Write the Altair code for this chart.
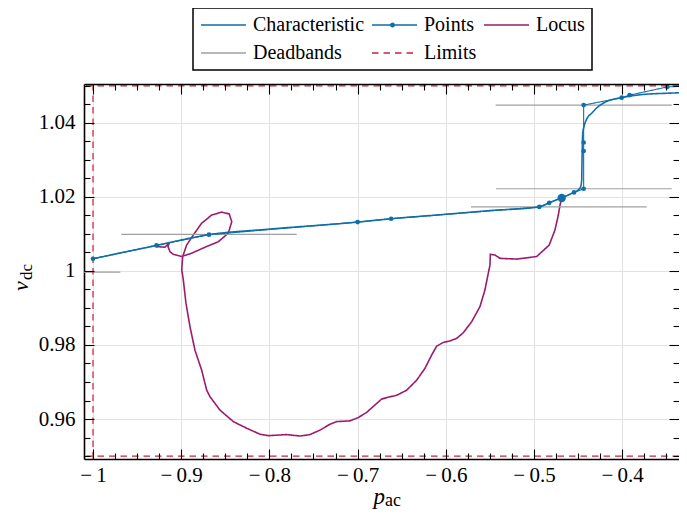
import altair as alt
import pandas as pd

# ---------------- data ----------------
SERIES = ["Characteristic", "Points", "Locus", "Deadbands", "Limits"]
COLORS = ["#0f6fa8", "#0f6fa8", "#9b1c6e", "#a0a0a0", "#c8233c"]
DASHES = [[1, 0], [1, 0], [1, 0], [1, 0], [6.5, 5]]

char_x = [-1.0, -0.928, -0.8685, -0.8, -0.7, -0.662, -0.6, -0.55, -0.494, -0.4827,
          -0.4705, -0.462, -0.4554, -0.4498, -0.4471, -0.4459, -0.4456, -0.4452,
          -0.4448, -0.4433, -0.4403, -0.4346, -0.4271, -0.4175, -0.4006, -0.3798,
          -0.3495, -0.3265, -0.30]
char_y = [1.0033, 1.0069, 1.0098, 1.0113, 1.0132, 1.0141, 1.0153, 1.0163, 1.0173, 1.0184,
          1.0196, 1.0204, 1.0212, 1.0219, 1.0228, 1.0246, 1.0291, 1.0336,
          1.0372, 1.0390, 1.0410, 1.0426, 1.0444, 1.0458, 1.0468, 1.0476,
          1.0480, 1.0482, 1.0484]

pts_x = [-1.0, -0.928, -0.8685, -0.7, -0.662, -0.494, -0.4827, -0.4546, -0.4437,
         -0.4437, -0.4437, -0.4437, -0.4006, -0.3916, -0.3489, -0.30]
pts_y = [1.0033, 1.0069, 1.0098, 1.0132, 1.0141, 1.0173, 1.0184, 1.0212, 1.0222,
         1.0324, 1.0347, 1.0448, 1.0468, 1.0475, 1.0497, 1.0503]

op_x = [-0.4686]
op_y = [1.0197]

locus_x = [-0.9278, -0.9184, -0.9135, -0.9150, -0.9127, -0.9090, -0.8994, -0.8881,
           -0.8711, -0.8579, -0.8466, -0.8427, -0.8455, -0.8541, -0.8654, -0.8768,
           -0.8863, -0.8938, -0.8983, -0.8994, -0.8976, -0.8946, -0.8900, -0.8844,
           -0.8768, -0.8711, -0.8673, -0.8560, -0.8409, -0.8257, -0.8107, -0.8012,
           -0.7804, -0.7653, -0.7540, -0.7426, -0.7313, -0.7237, -0.7086, -0.6992,
           -0.6897, -0.6803, -0.6727, -0.6633, -0.6557, -0.6443, -0.6330, -0.6236,
           -0.6160, -0.6103, -0.6028, -0.5952, -0.5876, -0.5802, -0.5706, -0.5612,
           -0.5556, -0.5518, -0.5499, -0.5495, -0.5442, -0.5385, -0.5196, -0.4969,
           -0.4827, -0.4762, -0.4724, -0.4705, -0.4686]
locus_y = [1.0066, 1.0064, 1.0076, 1.0066, 1.0052, 1.0045, 1.0039, 1.0048,
           1.0066, 1.0079, 1.0102, 1.0133, 1.0154, 1.0159, 1.0151, 1.0129,
           1.0097, 1.0070, 1.0039, 1.0003, 0.9976, 0.9913, 0.9849, 0.9786,
           0.9732, 0.9678, 0.9660, 0.9624, 0.9593, 0.9575, 0.9559, 0.9555,
           0.9558, 0.9554, 0.9558, 0.9570, 0.9586, 0.9593, 0.9595, 0.9604,
           0.9618, 0.9638, 0.9654, 0.9660, 0.9664, 0.9678, 0.9705, 0.9737,
           0.9773, 0.9797, 0.9807, 0.9811, 0.9818, 0.9833, 0.9863, 0.9904,
           0.9949, 0.9994, 1.0016, 1.0045, 1.0043, 1.0034, 1.0032, 1.0039,
           1.0070, 1.0111, 1.0151, 1.0178, 1.0197]

db_y = [0.9997, 1.0099, 1.0173, 1.0222, 1.0448]
db_x1 = [-1.031, -0.968, -0.5714, -0.5431, -0.5435]
db_x2 = [-0.969, -0.769, -0.3722, -0.3439, -0.3439]

lim_y = [0.95, 1.05]
lim_x = [-1.0]

x_major = [-1.0, -0.9, -0.8, -0.7, -0.6, -0.5, -0.4]
x_minor = [round(-1.0 + 0.025 * k, 3) for k in range(1, 27) if k % 4 != 0]
y_major = [0.96, 0.98, 1.0, 1.02, 1.04]
y_minor = [round(0.95 + 0.005 * k, 3) for k in range(0, 21) if k % 4 != 2]

# ---------------- layout ----------------
W, H = 595, 375
XDOM = [-1.0102, -1.0102 + W / 882.0]
YDOM = [0.9492, 1.0505]
FONT = "Liberation Serif"
BLUE = COLORS[0]

xs = alt.Scale(domain=XDOM, nice=False, zero=False)
ys = alt.Scale(domain=YDOM, nice=False, zero=False)
cs = alt.Scale(domain=SERIES, range=COLORS)
ds = alt.Scale(domain=SERIES, range=DASHES)

LEG = alt.Legend(
    title=None, orient="none", legendX=109, legendY=-76, columns=3, direction="horizontal",
    symbolType="stroke", symbolSize=2025, symbolStrokeWidth=1.5, clipHeight=20,
    labelFont=FONT, labelFontSize=20, labelColor="black", labelOffset=6, labelLimit=300,
    columnPadding=6, rowPadding=8, padding=7, symbolOffset=0,
    strokeColor="black", fillColor="white",
)

# small overlay legend: the dot of the "Points" legend entry
DOT = "M0.11,0A0.11,0.11,0,1,1,-0.11,0A0.11,0.11,0,1,1,0.11,0Z"
LEG2 = alt.Legend(
    title=None, orient="none", legendX=286, legendY=-69, symbolSize=2025, clipHeight=20,
    padding=0, symbolOffset=0, labelExpr="''", labelFontSize=1, labelOffset=0,
    symbolFillColor=BLUE, symbolStrokeWidth=0, symbolOpacity=1, zindex=2,
)


def col():
    return alt.Color("series:N", scale=cs, legend=LEG)


def dash():
    return alt.StrokeDash("series:N", scale=ds, legend=LEG)


def X(field="x"):
    return alt.X(f"{field}:Q", scale=xs, axis=None)


def Y(field="y"):
    return alt.Y(f"{field}:Q", scale=ys, axis=None)


char_df = pd.DataFrame({"x": char_x, "y": char_y, "series": "Characteristic", "i": range(len(char_x))})
pts_df = pd.DataFrame({"x": pts_x, "y": pts_y, "series": "Points", "i": range(len(pts_x))})
op_df = pd.DataFrame({"x": op_x, "y": op_y})
loc_df = pd.DataFrame({"x": locus_x, "y": locus_y, "series": "Locus", "i": range(len(locus_x))})
db_df = pd.DataFrame({"x1": db_x1, "x2": db_x2, "y": db_y, "series": "Deadbands"})
limh_df = pd.DataFrame({"y": lim_y, "series": "Limits"})
limv_df = pd.DataFrame({"x": lim_x, "series": "Limits"})
dummy = pd.DataFrame({"x": [-0.7], "y": [1.0]})
empty_df = pd.DataFrame({"x": pd.Series([], dtype=float), "y": pd.Series([], dtype=float),
                         "series": pd.Series([], dtype=str)})

locus = alt.Chart(loc_df).mark_line(strokeWidth=1.6, clip=True).encode(
    x=X(), y=Y(), order="i:Q", color=col(), strokeDash=dash())
deadbands = alt.Chart(db_df).mark_rule(strokeWidth=1.2, clip=True).encode(
    x=X("x1"), x2="x2:Q", y=Y(), color=col(), strokeDash=dash())
lim_h = alt.Chart(limh_df).mark_rule(strokeWidth=1.2, clip=True).encode(
    y=Y(), color=col(), strokeDash=dash())
lim_v = alt.Chart(limv_df).mark_rule(strokeWidth=1.2, clip=True).encode(
    x=X(), color=col(), strokeDash=dash())
charc = alt.Chart(char_df).mark_line(strokeWidth=1.6, interpolate="monotone", clip=True).encode(
    x=X(), y=Y(), order="i:Q", color=col(), strokeDash=dash())
pts_line = alt.Chart(pts_df).mark_line(strokeWidth=1.1, clip=True).encode(
    x=X(), y=Y(), order="i:Q", color=col(), strokeDash=dash())
pts_dots = alt.Chart(pts_df).mark_circle(size=22, opacity=1, clip=True).encode(
    x=X(), y=Y(), color=alt.value(BLUE))
op_dot = alt.Chart(op_df).mark_circle(size=70, opacity=1, clip=True).encode(
    x=X(), y=Y(), color=alt.value(BLUE))
# carries only the overlay legend (no rows -> draws nothing in the plot)
dot_legend = alt.Chart(empty_df).mark_point(filled=True, opacity=1).encode(
    x=X(), y=Y(), color=alt.value(BLUE),
    shape=alt.Shape("series:N", scale=alt.Scale(domain=["Points"], range=[DOT]), legend=LEG2))

tick_common = dict(labels=False, domain=False, grid=False, title=None,
                   tickColor="black", tickWidth=1.1)


def axis_layer(xaxis=None, yaxis=None):
    return alt.Chart(dummy).mark_point(opacity=0, size=1).encode(
        x=alt.X("x:Q", scale=xs, axis=xaxis),
        y=alt.Y("y:Q", scale=ys, axis=yaxis),
    )


xlab = "datum.value < 0 ? '\u2212\u2009' + format(-datum.value, '~g') : format(datum.value, '~g')"
axA = axis_layer(xaxis=alt.Axis(
    orient="bottom", values=x_major, labelExpr=xlab, grid=True, gridColor="#e2e2e2",
    gridWidth=1.1, ticks=False, tickSize=0, domain=True, domainColor="black", domainWidth=1.6,
    labelFont=FONT, labelFontSize=21, labelColor="black", labelPadding=5, title=None,
    labelFlush=False, labelOverlap=False, zindex=0))
axB = axis_layer(xaxis=alt.Axis(orient="top", offset=-H, values=x_major, tickSize=10, zindex=1, **tick_common))
axC = axis_layer(xaxis=alt.Axis(orient="top", offset=-H, values=x_minor, tickSize=6, zindex=1, **tick_common))
axD = axis_layer(xaxis=alt.Axis(orient="bottom", offset=-H, values=x_major, tickSize=10, zindex=1,
                                labels=False, grid=False, title=None, tickColor="black", tickWidth=1.1,
                                domain=True, domainColor="black", domainWidth=1.6))
axE = axis_layer(xaxis=alt.Axis(orient="bottom", offset=-H, values=x_minor, tickSize=6, zindex=1, **tick_common))
axF = axis_layer(yaxis=alt.Axis(
    orient="left", values=y_major, format="~g", grid=True, gridColor="#e2e2e2", gridWidth=1.1,
    ticks=False, tickSize=0, domain=True, domainColor="black", domainWidth=1.6,
    labelFont=FONT, labelFontSize=21, labelColor="black", labelPadding=9, title=None,
    labelFlush=False, labelOverlap=False, zindex=0))
axG = axis_layer(yaxis=alt.Axis(orient="right", offset=-W, values=y_major, tickSize=10, zindex=1, **tick_common))
axH = axis_layer(yaxis=alt.Axis(orient="right", offset=-W, values=y_minor, tickSize=6, zindex=1, **tick_common))
axI = axis_layer(yaxis=alt.Axis(orient="left", offset=-W, values=y_major, tickSize=10, zindex=1, **tick_common))
axJ = axis_layer(yaxis=alt.Axis(orient="left", offset=-W, values=y_minor, tickSize=6, zindex=1, **tick_common))

# axis titles (p_ac, v_dc)
t_p = alt.Chart(dummy).mark_text(text="p", font=FONT, fontStyle="italic", fontSize=23,
                                  align="right", baseline="alphabetic").encode(
    x=alt.value(301), y=alt.value(420))
t_ac = alt.Chart(dummy).mark_text(text="ac", font=FONT, fontSize=18,
                                   align="left", baseline="alphabetic").encode(
    x=alt.value(301), y=alt.value(422))
t_v = alt.Chart(dummy).mark_text(text="v", font=FONT, fontStyle="italic", fontSize=22,
                                  align="left", baseline="alphabetic", angle=270).encode(
    x=alt.value(-56), y=alt.value(207))
t_dc = alt.Chart(dummy).mark_text(text="dc", font=FONT, fontSize=17,
                                   align="left", baseline="alphabetic", angle=270).encode(
    x=alt.value(-52), y=alt.value(196))

chart = alt.layer(
    axA, axB, axC, axD, axE, axF, axG, axH, axI, axJ,
    locus, deadbands, lim_h, lim_v, charc, pts_line, pts_dots, op_dot, dot_legend,
    t_p, t_ac, t_v, t_dc,
).resolve_axis(x="independent", y="independent").properties(
    width=W, height=H,
    autosize=alt.AutoSizeParams(type="none"),
    padding={"left": 76, "top": 76, "right": 0, "bottom": 51},
).configure_view(strokeWidth=0).configure_legend(strokeWidth=1.5)

chart.save("out.html", embed_options={"renderer": "svg", "actions": False})
